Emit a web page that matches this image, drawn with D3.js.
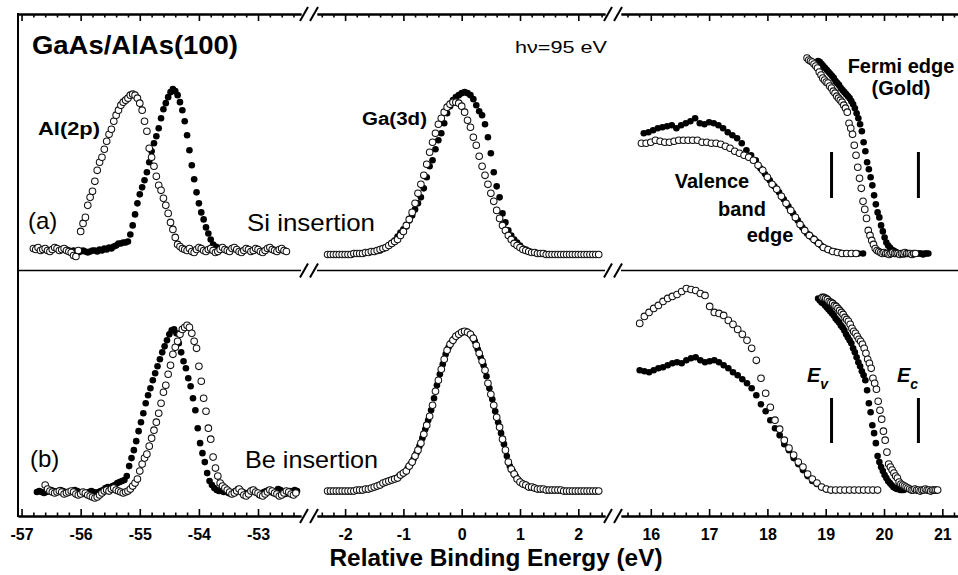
<!DOCTYPE html>
<html lang="en">
<head>
<meta charset="UTF-8">
<title>GaAs/AlAs(100) band offsets</title>
<script src="https://d3js.org/d3.v7.min.js"></script>
<style>
  body { margin: 0; background: #fff; }
  svg { display: block; font-family: "Liberation Sans", Arial, Helvetica, sans-serif; }
  .open { fill: #fff; stroke: #111; stroke-width: 1.05; }
  .filled { fill: #000; }
  .frame { stroke: #000; fill: none; }
</style>
</head>
<body>
<div id="chart"></div>
<script>
// energy grid steps (eV); every series = start energy + fixed step, intensity in arb. units
const STEP_AL = 0.04, STEP_GA = 0.05, STEP_VB = 0.08, STEP_FE = 0.03;

// tick labels of the three axis pieces
const ticksAl = [-57, -56, -55, -54, -53];
const ticksGa = [-2, -1, 0, 1, 2];
const ticksVb = [16, 17, 18, 19, 20, 21];

// band edge markers (eV)
const bandEdges = [19.10, 20.59];

// ---- (a) Si insertion ----
const alFilledA0 = -56.24;
const alFilledA = [21,20,19,20,19,18,19,20,19,18,19,20,20,19,21,20,22,21,23,22,
  24,25,27,27,28,28,29,36,45,56,67,76,83,90,98,108,119,127,134,142,
  152,161,167,173,178,181,179,175,168,160,149,135,120,105,91,78,67,58,51,43,
  37,31,26,24,23,22,22];
const alOpenA0 = -56.80;
const alOpenA = [22,21,23,20,21,22,20,19,21,23,22,20,21,22,20,19,18,15,14,20,
  39,47,53,65,73,79,89,100,108,113,121,129,136,141,149,155,160,165,168,170,
  172,175,176,175,172,167,160,149,139,122,113,104,94,85,80,72,65,57,48,41,
  33,26,24,22,21,20,22,19,18,21,23,22,20,19,21,22,20,18,19,21,23,21,20,19,
  22,23,21,19,18,20,22,21,19,20,22,21,19,18,20,22,23,21,20,19,21,22,20,19];
const gaFilledA0 = -1.40;
const gaFilledA = [20,22,23,25,27,30,34,38,41,44,50,55,61,67,73,82,93,104,110,121,
  130,137,147,157,164,170,173,175,177,178,177,175,171,165,159,155,146,133,117,98,
  84,73,57,48,40,35,31,28,25,22,21,19];
const gaOpenA0 = -2.30;
const gaOpenA = [16,16,16,16,16,16,16,16,16,17,17,17,17,18,18,
  19,19,20,21,22,23,25,27,29,31,35,39,45,51,58,67,77,86,95,106,
  118,128,137,146,152,158,163,166,168,168,167,164,158,150,143,133,125,114,104,95,
  86,77,69,60,52,45,40,35,31,27,25,23,21,20,19,18,18,
  17,17,17,16,16,16,16,16,16,16,16,16,16,16,16,16,16,16,16,16,16,16];
const vbFilledA0 = 15.88;
const vbFilledA = [137,138,140,142,143,144,145,142,145,147,149,152,147,146,148,147,145,142,138,135,
  132,127,120,115,110,102,96,90,84,78,71,64,57,50,43,37,33,29,25,22,
  20,19,18,17,17,17,17,17];
const vbOpenA0 = 15.84;
const vbOpenA = [127,127,128,130,129,128,128,129,130,130,130,130,130,128,128,127,127,126,124,122,
  119,117,115,113,110,105,100,93,86,81,74,67,60,53,46,40,35,31,27,23,
  21,19,18,17,17,17,17];
const feFilledA0 = 18.87;
const feFilledA = [209,208,206,204,202,200,198,196,194,192,189,187,185,182,180,178,176,174,172,169,
  166,162,157,152,146,139,128,119,108,101,93,85,75,66,58,53,45,39,33,28,
  25,23,21,20,19,18,17,17,17,16,17,17,17,17,16,17,17,17,17,17,16,17,17,17];
const feOpenA0 = 18.68;
const feOpenA = [212,210,209,208,206,204,202,198,195,192,190,188,187,184,182,179,177,174,172,170,
  168,165,162,158,147,142,136,125,115,103,92,82,69,61,52,40,35,30,26,22,
  20,19,18,17,18,17,17,16,17,18,17,17,17,16,17,17,18,17,17,17,16,17,17];

// ---- (b) Be insertion ----
const alFilledB0 = -56.74;
const alFilledB = [24,25,24,23,24,25,26,25,24,25,26,25,24,23,24,25,26,25,24,23,
  22,23,24,25,24,23,24,25,26,28,29,28,30,31,33,34,35,36,
  40,50,58,66,75,85,94,103,113,121,128,136,143,150,157,164,170,176,182,186,
  187,183,173,164,155,148,138,130,118,106,88,73,63,54,43,35,31,28,26,25,
  25,24,26,23,22,24,25,27,26,24,23,22,24,26,25,23,21,22,24,25,
  26,24,23,25,27,26,24,22,23,25,24,26,25];
const alOpenB0 = -56.60;
const alOpenB = [31,27,25,24,23,24,25,24,22,23,24,25,24,22,21,22,24,23,21,20,
  19,18,19,21,23,25,26,25,27,28,26,25,24,23,24,25,27,
  30,33,37,45,52,58,62,70,78,86,94,103,113,124,131,142,151,162,169,175,
  182,187,189,191,189,183,175,168,150,135,118,105,88,77,59,48,40,33,30,28,
  26,24,22,23,25,27,24,21,20,22,25,26,24,23,21,20,22,24,26,25,
  23,22,20,21,23,25,24,22,21,23];
const gaFilledB0 = -1.475;
const gaFilledB = [29,31,32,33,35,36,37,38,40,42,44,48,52,57,63,70,78,87,96,106,
  118,131,142,152,162,169,174,178,181,183,185,185,183,180,175,167,159,151,140,128,
  117,105,94,83,72,60,50,45,40,36,33,32,30,29,29];
const gaOpenB0 = -2.30;
const gaOpenB = [25,25,25,25,25,25,25,25,25,25,26,26,26,27,27,
  28,29,30,31,33,34,35,36,37,38,41,43,45,50,54,60,66,73,82,91,
  100,111,125,136,147,157,166,172,176,180,182,184,185,184,182,178,171,163,155,146,
  133,122,111,99,89,77,66,54,47,42,37,34,32,31,29,29,28,
  27,27,27,26,26,26,26,26,26,25,25,25,25,25,25,25,25,25,25,25,25,25];
const vbFilledB0 = 15.81;
const vbFilledB = [146,145,144,146,148,149,151,153,154,153,156,158,159,156,154,155,156,154,151,148,
  144,141,137,133,128,121,112,105,96,88,81,72,66,58,52,46,40,35,32,29,27,26];
const vbOpenB0 = 15.81;
const vbOpenB = [193,200,204,208,211,215,218,220,222,225,228,227,226,223,221,210,204,203,201,196,
  192,187,182,176,168,156,138,123,109,96,87,76,68,61,54,49,42,37,33,29,
  27,26,26,26,26,26,26,26,26,26,26,26];
const feFilledB0 = 18.87;
const feFilledB = [218,216,214,213,211,209,207,205,203,201,198,196,194,191,189,186,182,179,176,173,
  168,164,159,154,150,145,141,136,126,113,104,91,83,73,60,54,49,45,41,38,
  35,33,31,29,28,27,27,26,26,26];
const feOpenB0 = 18.94;
const feOpenB = [219,219,218,217,215,214,213,211,210,208,206,204,202,199,197,195,192,188,185,183,
  180,177,175,172,168,163,157,153,148,138,133,127,115,106,97,85,76,64,52,49,
  46,43,40,38,34,32,31,30,29,28,27,26,26,27,26,26,25,26,26,27,26,26,25,26,26,26,26];

// ---------------- layout ----------------
const W = 958, H = 575;
const Y_TOP = 14, Y_MID = 270.5, Y_BOT = 516, X_LEFT = 18;

const svg = d3.select("#chart").append("svg").attr("width", W).attr("height", H);

// three pieces of the broken energy axis
const segs = [
  { x: d3.scaleLinear().domain([-57.06, -52.273]).range([18, 301]), ticks: ticksAl },
  { x: d3.scaleLinear().domain([-2.482, 2.458]).range([317, 605]), ticks: ticksGa },
  { x: d3.scaleLinear().domain([15.489, 21.269]).range([621, 958]), ticks: ticksVb }
];

// intensity scales, one per panel
const yA = d3.scaleLinear().domain([0, 256]).range([Y_MID, Y_TOP]);
const yB = d3.scaleLinear().domain([0, 246]).range([Y_BOT, Y_MID]);

const series = [
  // drawn in this order: filled first, open on top
  { seg: 0, y: yA, e0: alFilledA0, step: STEP_AL, v: alFilledA, cls: "filled" },
  { seg: 0, y: yA, e0: alOpenA0, step: STEP_AL, v: alOpenA, cls: "open" },
  { seg: 1, y: yA, e0: gaFilledA0, step: STEP_GA, v: gaFilledA, cls: "filled" },
  { seg: 1, y: yA, e0: gaOpenA0, step: STEP_GA, v: gaOpenA, cls: "open" },
  { seg: 2, y: yA, e0: vbFilledA0, step: STEP_VB, v: vbFilledA, cls: "filled" },
  { seg: 2, y: yA, e0: vbOpenA0, step: STEP_VB, v: vbOpenA, cls: "open" },
  { seg: 2, y: yA, e0: feFilledA0, step: STEP_FE, v: feFilledA, cls: "filled" },
  { seg: 2, y: yA, e0: feOpenA0, step: STEP_FE, v: feOpenA, cls: "open" },
  { seg: 0, y: yB, e0: alFilledB0, step: STEP_AL, v: alFilledB, cls: "filled" },
  { seg: 0, y: yB, e0: alOpenB0, step: STEP_AL, v: alOpenB, cls: "open" },
  { seg: 1, y: yB, e0: gaFilledB0, step: STEP_GA, v: gaFilledB, cls: "filled" },
  { seg: 1, y: yB, e0: gaOpenB0, step: STEP_GA, v: gaOpenB, cls: "open" },
  { seg: 2, y: yB, e0: vbFilledB0, step: STEP_VB, v: vbFilledB, cls: "filled" },
  { seg: 2, y: yB, e0: vbOpenB0, step: STEP_VB, v: vbOpenB, cls: "open" },
  { seg: 2, y: yB, e0: feFilledB0, step: STEP_FE, v: feFilledB, cls: "filled" },
  { seg: 2, y: yB, e0: feOpenB0, step: STEP_FE, v: feOpenB, cls: "open" }
];

// data points
series.forEach(s => {
  const x = segs[s.seg].x;
  svg.append("g")
    .selectAll("circle")
    .data(s.v.map((val, i) => ({ e: s.e0 + i * s.step, val })))
    .join("circle")
    .attr("class", s.cls)
    .attr("cx", d => x(d.e))
    .attr("cy", d => s.y(d.val))
    .attr("r", 3.3);
});

// axes: bottom (labelled, inward ticks), top (inward ticks), divider (plain line)
segs.forEach(s => {
  const [d0, d1] = s.x.domain();
  const minor = d3.range(Math.ceil(d0 * 5), Math.floor(d1 * 5) + 1)
    .filter(k => k % 5 !== 0).map(k => k / 5);

  const bot = svg.append("g").attr("transform", `translate(0,${Y_BOT})`);
  bot.append("g").call(d3.axisBottom(s.x).tickValues(minor).tickSize(-3.5).tickSizeOuter(0).tickFormat(""));
  bot.append("g").call(d3.axisBottom(s.x).tickValues(s.ticks).tickSize(-7).tickSizeOuter(0)
      .tickPadding(12.5).tickFormat(d => String(d)))
    .attr("font-family", null).attr("font-size", 16).attr("font-weight", "bold");

  const top = svg.append("g").attr("transform", `translate(0,${Y_TOP})`);
  top.append("g").call(d3.axisTop(s.x).tickValues(minor).tickSize(-3.5).tickSizeOuter(0).tickFormat(""));
  top.append("g").call(d3.axisTop(s.x).tickValues(s.ticks).tickSize(-7).tickSizeOuter(0).tickFormat(""));

  const [r0, r1] = s.x.range();
  svg.append("line").attr("class", "frame").attr("stroke-width", 1.5)
    .attr("x1", r0).attr("x2", r1).attr("y1", Y_MID).attr("y2", Y_MID);
});
svg.selectAll(".domain").attr("stroke-width", 2).attr("stroke", "#000");
svg.selectAll(".tick line").attr("stroke-width", 1.6).attr("stroke", "#000");

svg.append("line").attr("class", "frame").attr("stroke-width", 2)
  .attr("x1", X_LEFT).attr("x2", X_LEFT).attr("y1", Y_TOP - 1).attr("y2", Y_BOT + 1);

// axis break marks
[309, 613].forEach(xc => {
  [Y_TOP, Y_MID, Y_BOT].forEach(y => {
    [-5, 5].forEach(dx => {
      svg.append("line").attr("class", "frame").attr("stroke-width", 2)
        .attr("x1", xc + dx - 4).attr("y1", y + 7)
        .attr("x2", xc + dx + 4).attr("y2", y - 7);
    });
  });
});

// band edge bars
const xv = segs[2].x;
[[152, 198], [398, 443]].forEach(([y1, y2]) => {
  bandEdges.forEach(e => {
    svg.append("line").attr("stroke", "#000").attr("stroke-width", 3)
      .attr("x1", xv(e)).attr("x2", xv(e)).attr("y1", y1).attr("y2", y2);
  });
});

// text
function label(txt, x, y, size, o = {}) {
  const t = svg.append("text").attr("x", x).attr("y", y)
    .attr("font-size", size)
    .attr("font-weight", o.bold ? "bold" : "normal")
    .attr("text-anchor", o.anchor || "start")
    .text(txt);
  if (o.len) t.attr("textLength", o.len).attr("lengthAdjust", "spacingAndGlyphs");
  return t;
}
label("GaAs/AlAs(100)", 32, 54, 25, { bold: true, len: 206 });
label("h\u03bd=95 eV", 515, 53, 17, { len: 92 });
label("Al(2p)", 38, 135, 18, { bold: true, len: 62 });
label("Ga(3d)", 362, 125, 18, { bold: true, len: 65 });
label("(a)", 28, 229, 24);
label("Si insertion", 247, 231, 24, { len: 128 });
label("(b)", 30, 467, 24);
label("Be insertion", 245, 468, 24, { len: 133 });
label("Valence", 712, 188, 20, { bold: true, anchor: "middle" });
label("band", 742, 216, 20, { bold: true, anchor: "middle" });
label("edge", 770, 242, 20, { bold: true, anchor: "middle" });
label("Fermi edge", 901, 73, 20, { bold: true, anchor: "middle" });
label("(Gold)", 901, 95, 20, { bold: true, anchor: "middle" });
label("Relative Binding Energy (eV)", 496, 566, 23, { bold: true, anchor: "middle", len: 333 });

[["v", 807], ["c", 897]].forEach(([sub, x]) => {
  const t = svg.append("text").attr("x", x).attr("y", 382)
    .attr("font-size", 20).attr("font-weight", "bold").attr("font-style", "italic");
  t.append("tspan").text("E");
  t.append("tspan").attr("font-size", 14).attr("dy", 7).text(sub);
});
</script>
</body>
</html>
